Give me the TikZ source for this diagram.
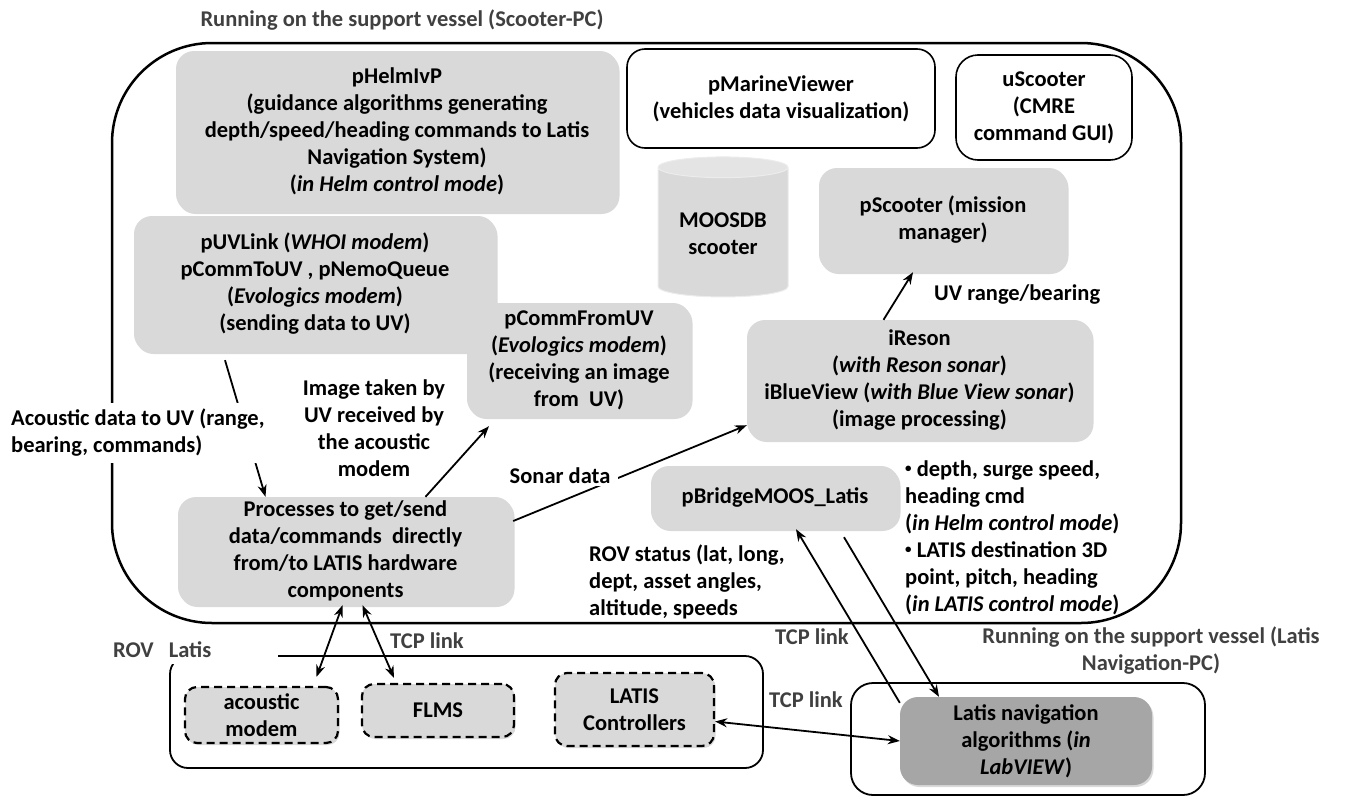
\documentclass[tikz,border=0pt]{standalone}
\usepackage{fontspec}
\setmainfont{Carlito}
\usetikzlibrary{shapes.geometric, arrows.meta, shadows, calc}
\definecolor{boxgray}{RGB}{217,217,217}
\definecolor{navgray}{RGB}{166,166,166}
\definecolor{labelgray}{RGB}{64,64,64}
\newcommand{\notebullet}{\raisebox{0.35ex}{\fontsize{13}{13}\selectfont•}}
\tikzset{
  procbox/.style={fill=boxgray, rounded corners=18pt, align=center, inner sep=2pt,
    drop shadow={shadow xshift=1.5pt, shadow yshift=-2pt, opacity=0.25, fill=black!60}},
  guibox/.style={draw, line width=1.6pt, rounded corners=18pt, fill=white, align=center, inner sep=2pt},
  hwbox/.style={procbox, draw, line width=2.2pt, dash pattern=on 8pt off 5pt, rounded corners=12pt},
  groupbox/.style={draw, line width=1.8pt, rounded corners=18pt, inner sep=0pt},
  grouplabel/.style={text=labelgray, inner sep=2pt},
  note/.style={inner sep=2pt},
  link/.style={line width=1.8pt, -{Stealth[length=12pt, width=9pt]}},
  duallink/.style={line width=1.8pt, {Stealth[length=12pt, width=9pt]}-{Stealth[length=12pt, width=9pt]}}
}

\begin{document}
\begin{tikzpicture}[x=1pt, y=-1pt, font=\bfseries\fontsize{22.5}{27}\selectfont]
  \useasboundingbox (0,0) rectangle (1356,798);

  % Scooter-PC
  \node[grouplabel] (scootertitle) at (402,20) {Running on the support vessel (Scooter-PC)};
  \node[groupbox, line width=2.5pt, rounded corners=100pt, minimum width=1069pt, minimum height=580pt] (scooterpc) at (646.5,333) {};

  \node[procbox, minimum width=442pt, minimum height=161pt] (helm) at (397,131.5) {pHelmIvP\\(guidance algorithms generating\\depth/speed/heading commands to Latis\\Navigation System)\\(\textit{in Helm control mode})};
  \node[guibox, minimum width=308pt, minimum height=99pt] (viewer) at (781,98.5) {pMarineViewer\\(vehicles data visualization)};
  \node[guibox, rounded corners=22pt, minimum width=176pt, minimum height=105pt] (uscooter) at (1044,107.5) {uScooter\\(CMRE\\command GUI)};
  \node[shape=cylinder, shape border rotate=90, aspect=0.22, cylinder uses custom fill, cylinder body fill=boxgray, cylinder end fill=boxgray!70!white, draw=white!85!gray, line width=1pt, minimum width=130pt, minimum height=140pt, align=center] (moosdb) at (723,234) {MOOSDB\\scooter};
  \node[procbox, minimum width=248pt, minimum height=104pt] (pscooter) at (943,220) {pScooter (mission\\manager)};
  \node[procbox, minimum width=362pt, minimum height=136pt] (uvlink) at (315,284) {pUVLink (\textit{WHOI modem})\\pCommToUV , pNemoQueue\\(\textit{Evologics modem})\\(sending data to UV)};
  \node[procbox, minimum width=224pt, minimum height=114pt] (commfrom) at (579,360) {pCommFromUV\\(\textit{Evologics modem})\\(receiving an image\\from~ UV)};
  \node[procbox, minimum width=345pt, minimum height=120pt] (ireson) at (919.5,380) {iReson\\(\textit{with Reson sonar})\\iBlueView (\textit{with Blue View sonar})\\(image processing)};
  \node[procbox, minimum width=248pt, minimum height=63pt] (bridge) at (775,497.5) {pBridgeMOOS\_Latis};
  \node[procbox, minimum width=335pt, minimum height=108pt] (procs) at (345.5,551) {Processes to get/send\\data/commands~ directly\\from/to LATIS hardware\\components};

  % ROV Latis
  \node[groupbox, minimum width=593pt, minimum height=112pt] (rov) at (466.5,712) {};
  \node[grouplabel, fill=white, anchor=west, align=left, text width=160pt, inner xsep=5pt, inner ysep=6pt] (rovtitle) at (108,650) {ROV~ Latis};
  \node[hwbox, minimum width=153pt, minimum height=56pt] (acmodem) at (261.5,715) {acoustic\\modem};
  \node[hwbox, minimum width=152pt, minimum height=53pt] (flms) at (438,710.5) {FLMS};
  \node[hwbox, minimum width=159pt, minimum height=73pt] (latctrl) at (634.5,709.5) {LATIS\\Controllers};

  % Latis Navigation-PC
  \node[grouplabel, align=center] (navtitle) at (1151,651) {Running on the support vessel (Latis\\Navigation-PC)};
  \node[groupbox, rounded corners=22pt, minimum width=354pt, minimum height=112pt] (navpc) at (1028,739) {};
  \node[procbox, fill=navgray, minimum width=252pt, minimum height=88pt] (latnav) at (1026,741) {Latis navigation\\algorithms (\textit{in}\\\textit{LabVIEW})};

  % links
  \draw[link] ([xshift=-90pt,yshift=-8pt]uvlink.south) -- ([xshift=-80pt]procs.north);
  \draw[link] ([xshift=80pt]procs.north) -- ([xshift=-90pt,yshift=-9pt]commfrom.south);
  \draw[link] ([yshift=30pt]procs.east) -- ([yshift=15pt]ireson.south west);
  \draw[link] ([xshift=-36pt]ireson.north) -- ([xshift=-30pt]pscooter.south);
  \draw[duallink] ([xshift=-3pt]procs.south) -- ([xshift=55pt,yshift=9pt]acmodem.north);
  \draw[duallink] ([xshift=17pt]procs.south) -- ([xshift=-44pt,yshift=5pt]flms.north);
  \draw[duallink] ([yshift=-12pt]latctrl.east) -- (latnav.west);
  \draw[link] ([yshift=-6pt]latnav.north west) -- ([xshift=21pt]bridge.south);
  \draw[link] ([xshift=69pt,yshift=-8pt]bridge.south) -- ([xshift=-87pt]latnav.north);

  % labels
  \node[note, fill=white, anchor=west, align=left, inner xsep=5pt, inner ysep=6pt] (acdata) at (6,433) {Acoustic data to UV (range,\\bearing, commands)};
  \node[note, align=center] (imgnote) at (374,428) {Image taken by\\UV received by\\the acoustic\\modem};
  \node[note, fill=white, inner xsep=8pt] (sonar) at (560,476) {Sonar data};
  \node[note, anchor=west] (rangenote) at (932,295) {UV range/bearing};
  \node[note, anchor=west, align=left] (rovstatus) at (587,582) {ROV status (lat, long,\\dept, asset angles,\\altitude, speeds};
  \node[note, anchor=west, align=left] (cmdnote) at (903,538) {\notebullet\ depth, surge speed,\\heading cmd\\(\textit{in Helm control mode})\\\notebullet\ LATIS destination 3D\\point, pitch, heading\\(\textit{in LATIS control mode})};
  \node[grouplabel] (tcpa) at (427,641) {TCP link};
  \node[grouplabel] (tcpb) at (812,637) {TCP link};
  \node[grouplabel] (tcpc) at (806,700) {TCP link};
\end{tikzpicture}
\end{document}
